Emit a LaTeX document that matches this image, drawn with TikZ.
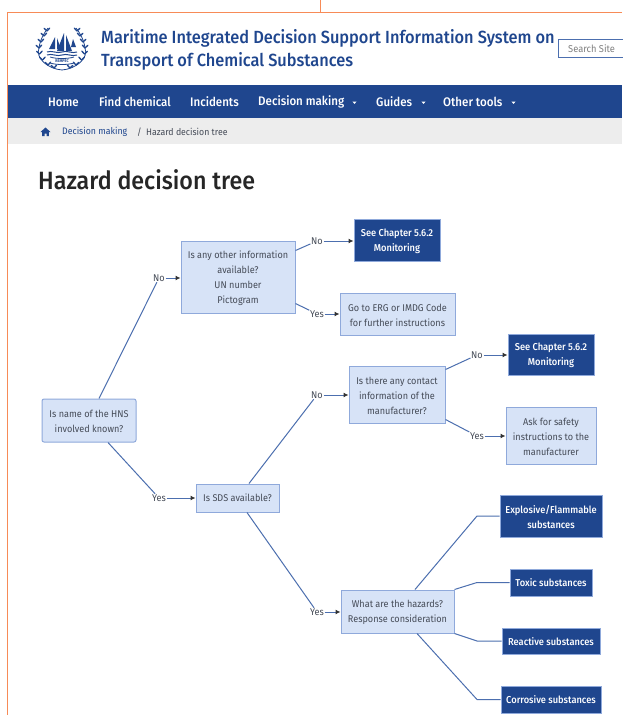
\documentclass[tikz,border=0pt]{standalone}
\usepackage{fontspec}
\setmainfont{Fira Sans}[FakeStretch=0.93]
\newfontfamily\medfont{Fira Sans Medium}[FakeStretch=0.93]
\usetikzlibrary{arrows.meta,calc}
\definecolor{navy}{HTML}{1F468E}
\definecolor{paleblue}{HTML}{D7E3F7}
\definecolor{edgeblue}{HTML}{8FA9DB}
\definecolor{lineblue}{HTML}{4C6FAF}
\definecolor{bodytext}{HTML}{454B57}
\definecolor{orangeline}{HTML}{F78B57}
\tikzset{
 lighttext/.style={align=center,inner sep=0pt,yshift=-1pt,font=\fontsize{9.8}{15}\selectfont,text=bodytext},
 darktext/.style={align=center,inner sep=0pt,yshift=-1pt,font=\medfont\fontsize{10}{15}\selectfont,text=white},
 oneline/.style={yshift=0.9pt},
 lightbox/.style={inner sep=0pt,draw=edgeblue,fill=paleblue,line width=1pt},
 darkbox/.style={inner sep=0pt,draw=edgeblue,fill=navy,line width=1pt},
 answer/.style={font=\fontsize{9.8}{12}\selectfont,text=bodytext,inner sep=0.6pt,fill=white},
 link/.style={draw=lineblue,line width=1pt},
 pointer/.style={link,-{Latex[length=5pt,width=5pt,black!80]}},
 navtext/.style={font=\medfont\fontsize{12.4}{14}\selectfont,text=white,anchor=west,inner sep=0pt},
 caret/.style={fill=white,draw=none},
 crumb/.style={font=\fontsize{9.4}{11}\selectfont,anchor=west,inner sep=0pt},
 leaf/.style={draw=navy,line width=1.3pt,line cap=round}
}
\begin{document}
\begin{tikzpicture}[x=1pt,y=-1pt]
\useasboundingbox (0,0) rectangle (622,715);
\fill[white] (0,0) rectangle (622,715);
% page frame
\draw[orangeline,line width=1.5pt] (320.5,0) -- (320.5,12.5);
\draw[orangeline,line width=1.5pt] (622,12.5) -- (7.5,12.5) -- (7.5,715);
% logo
\begin{scope}[shift={(62,48)}]
 \foreach \s in {-1,1}{
  \begin{scope}[xscale=\s]
   \draw[navy,line width=0.8pt] (0,22) .. controls (14,21) and (27,10) .. (23,0) .. controls (22,-8) and (18,-15) .. (14,-20);
   \foreach \a/\b in {15/-17,18/-12,21/-6,23/0,22.5/6,19.5/12,14/17,8/20}{
     \draw[leaf] (\a,\b) -- (\a+2.8,\b-2.6);
     \draw[leaf] (\a,\b) -- (\a-2.6,\b-2.8);
   }
  \end{scope}
 }
 \fill[navy] (-7,1) -- (-7,-11) -- (-13,1) -- cycle;
 \fill[navy] (-5,1) -- (-5,-10) -- (-1,1) -- cycle;
 \fill[navy] (2,3) -- (2,-15) -- (-5,3) -- cycle;
 \fill[navy] (4,3) -- (4,-13) -- (10,3) -- cycle;
 \fill[navy] (9,-1) -- (11,-9) -- (14,-1) -- cycle;
 \foreach \y in {4,7}{
  \draw[navy,line width=1pt] (-15,\y) .. controls (-10,\y-2) and (-5,\y+2) .. (0,\y) .. controls (5,\y-2) and (10,\y+2) .. (15,\y);
 }
 \draw[navy,line width=0.8pt] (-12,9) .. controls (-6,11) and (6,11) .. (12,9) (-12,15) .. controls (-6,17) and (6,17) .. (12,15);
 \node[inner sep=0pt,text=navy,font=\fontsize{4}{4}\selectfont\bfseries] (logotext) at (0,13) {REMPEC};
\end{scope}
% heading
\node[anchor=west,inner sep=0pt,text=navy,font=\medfont\fontsize{17.6}{20}\selectfont] (site1) at (101,38.5) {Maritime Integrated Decision Support Information System on};
\node[anchor=west,inner sep=0pt,text=navy,font=\medfont\fontsize{17.6}{20}\selectfont] (site2) at (101,61) {Transport of Chemical Substances};
% search
\fill[white,draw=lineblue,line width=0.7pt] (558.5,39.5) rectangle (640,57);
\node[anchor=west,inner sep=0pt,text=black!50,font=\fontsize{10}{11}\selectfont] (search) at (568,49) {Search Site};
% nav
\fill[navy] (8,85) rectangle (622,118);
\node[navtext] (n1) at (48,102) {Home};
\node[navtext] (n2) at (99,102) {Find chemical};
\node[navtext] (n3) at (190,102) {Incidents};
\node[navtext] (n4) at (258,102) {Decision making};
\node[navtext] (n5) at (376,102) {Guides};
\node[navtext] (n6) at (443,102) {Other tools};
\foreach \c in {354.5,423.5,513.5}{\fill[caret] (\c-2.2,101.5) -- (\c+2.2,101.5) -- (\c,103.8) -- cycle;}
% breadcrumb
\fill[black!7] (8,118) rectangle (622,144);
\fill[navy] (40.5,132) -- (45.5,127.5) -- (50.5,132) -- (48.8,132) -- (48.8,136) -- (46.5,136) -- (46.5,133.5) -- (44.5,133.5) -- (44.5,136) -- (42.2,136) -- (42.2,132) -- cycle;
\node[crumb,text=navy] (c1) at (62,132) {Decision making};
\node[crumb,text=bodytext] (c2) at (137,132) {/};
\node[crumb,text=bodytext] (c3) at (146,132) {Hazard decision tree};
% title
\node[anchor=west,inner sep=0pt,text=black!85,font=\medfont\fontsize{25}{30}\selectfont] (title) at (38,180) {Hazard decision tree};
% boxes
\node[lightbox,rounded corners=2pt,minimum width=94pt,minimum height=43pt,label={[lighttext]center:{Is name of the HNS\\involved known?}}] (root) at (89,420.5) {};
\node[lightbox,minimum width=114pt,minimum height=72pt,label={[lighttext]center:{Is any other information\\available?\\UN number\\Pictogram}}] (other) at (238,277) {};
\node[lightbox,minimum width=83pt,minimum height=28pt,label={[lighttext,oneline]center:{Is SDS available?}}] (sds) at (237.5,498) {};
\node[darkbox,minimum width=86pt,minimum height=42pt,label={[darktext]center:{See Chapter 5.6.2\\Monitoring}}] (see1) at (397,240) {};
\node[lightbox,minimum width=115pt,minimum height=42pt,label={[lighttext]center:{Go to ERG or IMDG Code\\for further instructions}}] (erg) at (397.5,314) {};
\node[lightbox,minimum width=96pt,minimum height=57pt,label={[lighttext]center:{Is there any contact\\information of the\\manufacturer?}}] (contact) at (397,394.5) {};
\node[darkbox,minimum width=86pt,minimum height=41pt,label={[darktext]center:{See Chapter 5.6.2\\Monitoring}}] (see2) at (551,354.5) {};
\node[lightbox,minimum width=90pt,minimum height=57pt,label={[lighttext]center:{Ask for safety\\instructions to the\\manufacturer}}] (ask) at (551,435.5) {};
\node[lightbox,minimum width=113pt,minimum height=43pt,label={[lighttext]center:{What are the hazards?\\Response consideration}}] (haz) at (397.5,611.5) {};
\node[darkbox,minimum width=102pt,minimum height=42pt,label={[darktext]center:{Explosive/Flammable\\substances}}] (expl) at (551,516) {};
\node[darkbox,minimum width=82pt,minimum height=27pt,label={[darktext,oneline]center:{Toxic substances}}] (tox) at (551,582.5) {};
\node[darkbox,minimum width=98pt,minimum height=26pt,label={[darktext,oneline]center:{Reactive substances}}] (reac) at (551,641) {};
\node[darkbox,minimum width=100pt,minimum height=27pt,label={[darktext,oneline]center:{Corrosive substances}}] (corr) at (551,699.5) {};
% answers
\node[answer] (no1) at (159,278) {No};
\node[answer] (yes1) at (159,498) {Yes};
\node[answer] (no2) at (317,241) {No};
\node[answer] (yes2) at (317,314) {Yes};
\node[answer] (no3) at (317,395) {No};
\node[answer] (no4) at (477,355) {No};
\node[answer] (yes3) at (477,436) {Yes};
\node[answer] (yes4) at (317,612) {Yes};
% connectors
\draw[link] ([xshift=10pt]root.north) -- (no1);
\draw[pointer] (no1) -- (no1 -| other.west);
\draw[link] ([xshift=19pt]root.south) -- (yes1);
\draw[pointer] (yes1) -- (yes1 -| sds.west);
\draw[link] ([yshift=-10pt]other.north east) -- (no2);
\draw[pointer] (no2) -- (no2 -| see1.west);
\draw[link] ([yshift=10pt]other.south east) -- (yes2);
\draw[pointer] (yes2) -- (yes2 -| erg.west);
\draw[link] ([xshift=11.5pt]sds.north) -- (no3);
\draw[pointer] (no3) -- (no3 -| contact.west);
\draw[link] ([xshift=9.5pt]sds.south) -- (yes4);
\draw[pointer] (yes4) -- (yes4 -| haz.west);
\draw[link] ([yshift=-4pt]contact.north east) -- (no4);
\draw[pointer] (no4) -- (no4 -| see2.west);
\draw[link] ([yshift=4pt]contact.south east) -- (yes3);
\draw[pointer] (yes3) -- (yes3 -| ask.west);
\coordinate (b1) at (477,516);
\coordinate (b2) at (477,582.5);
\coordinate (b3) at (477,641);
\coordinate (b4) at (477,699.5);
\draw[link] ([xshift=17.5pt]haz.north) -- (b1) -- (expl.west);
\draw[link] (haz.north east) -- (b2) -- (tox.west);
\draw[link] (haz.south east) -- (b3) -- (reac.west);
\draw[link] ([xshift=19.5pt]haz.south) -- (b4) -- (corr.west);
\end{tikzpicture}
\end{document}
